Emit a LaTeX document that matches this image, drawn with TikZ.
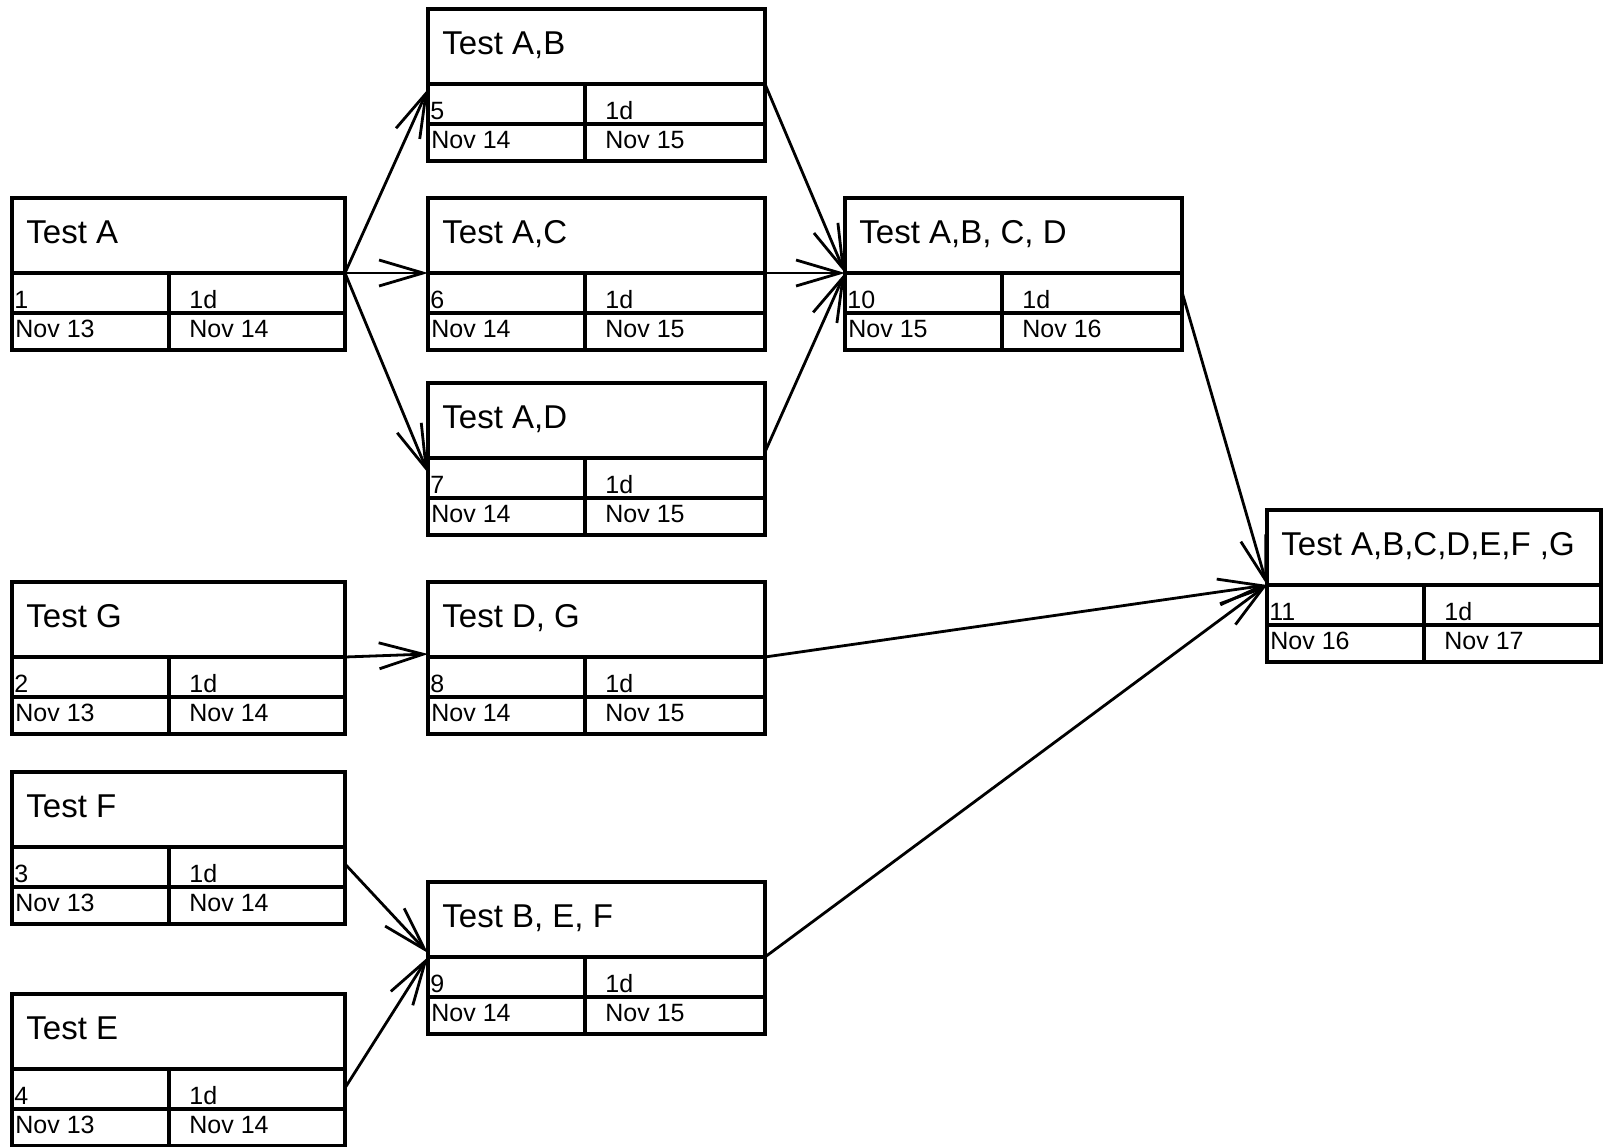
\documentclass[tikz,border=0pt]{standalone}
\usepackage{fontspec}
\setmainfont{Liberation Sans}
\usetikzlibrary{arrows.meta}
\tikzset{
  boxframe/.style={draw, line width=1.75pt, anchor=north west, minimum height=76pt, inner sep=0pt, outer sep=0pt},
  boxline/.style={line width=1.75pt},
  titletext/.style={anchor=base west, inner sep=0pt, font=\fontsize{16.5pt}{18pt}\selectfont},
  celltext/.style={anchor=base west, inner sep=0pt, font=\fontsize{12.5pt}{14pt}\selectfont},
  arr/.style={line width=1.4pt, -{Straight Barb[length=22pt,width=13pt]}}
}
% #1 name, #2 x, #3 y, #4 width (px), #5 title, #6 id, #7 start, #8 finish
\newcommand{\pertbox}[8]{%
  \begin{scope}[shift={(#2,#3)}]
    \node[boxframe, minimum width=#4*0.5pt] (#1) at (0,0) {};
    \draw[boxline] (0,75) coordinate (#1-w) -- (#4,75) coordinate (#1-e);
    \draw[boxline] (0,115) -- (#4,115);
    \draw[boxline] (157,75) -- (157,152);
    \node[titletext] (#1-title) at (14,45) {#5};
    \node[celltext] (#1-id) at (2,110) {#6};
    \node[celltext] (#1-dur) at (177,110) {1d};
    \node[celltext] (#1-start) at (3,139) {#7};
    \node[celltext] (#1-end) at (177,139) {#8};
  \end{scope}
}
\begin{document}
\begin{tikzpicture}[x=0.5pt, y=-0.5pt]
\useasboundingbox (0,0) rectangle (1603,1147);
\pertbox{A}{12}{198}{333}{Test A}{1}{Nov 13}{Nov 14}
\pertbox{G}{12}{582}{333}{Test G}{2}{Nov 13}{Nov 14}
\pertbox{F}{12}{772}{333}{Test F}{3}{Nov 13}{Nov 14}
\pertbox{E}{12}{994}{333}{Test E}{4}{Nov 13}{Nov 14}
\pertbox{AB}{428}{9}{337}{Test A,B}{5}{Nov 14}{Nov 15}
\pertbox{AC}{428}{198}{337}{Test A,C}{6}{Nov 14}{Nov 15}
\pertbox{AD}{428}{383}{337}{Test A,D}{7}{Nov 14}{Nov 15}
\pertbox{DG}{428}{582}{337}{Test D, G}{8}{Nov 14}{Nov 15}
\pertbox{BEF}{428}{882}{337}{Test B, E, F}{9}{Nov 14}{Nov 15}
\pertbox{ABCD}{845}{198}{337}{Test A,B, C, D}{10}{Nov 15}{Nov 16}
\pertbox{ALL}{1267}{510}{334}{Test A,B,C,D,E,F ,G}{11}{Nov 16}{Nov 17}

\draw[arr] (A-e) -- ([yshift=-2.5pt]AB-w);
\draw[arr] (A-e) -- (AC-w);
\draw[arr] (A-e) -- ([yshift=-7.5pt]AD-w);
\draw[arr] (AB-e) -- (ABCD-w);
\draw[arr] (AC-e) -- (ABCD-w);
\draw[arr] ([yshift=3pt]AD-e) -- (ABCD-w);
\draw[arr] ([yshift=-9.5pt]ABCD-e) -- (ALL-w);
\draw[arr] (G-e) -- ([yshift=1.5pt]DG-w);
\draw[arr] (DG-e) -- (ALL-w);
\draw[arr] ([yshift=-8.5pt]F-e) -- ([yshift=2pt]BEF-w);
\draw[arr] ([yshift=-9.5pt]E-e) -- (BEF-w);
\draw[arr] (BEF-e) -- (ALL-w);
\end{tikzpicture}
\end{document}
